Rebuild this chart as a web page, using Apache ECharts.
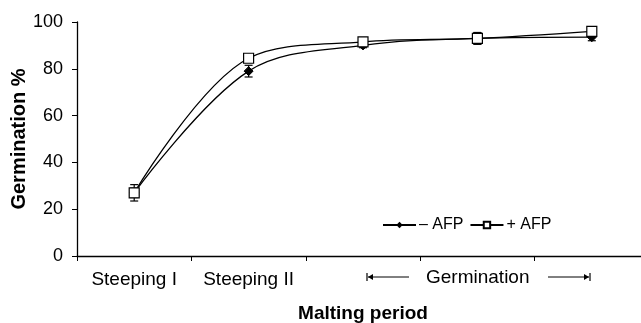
<!DOCTYPE html>
<html>
<head>
<meta charset="utf-8">
<script src="https://cdn.jsdelivr.net/npm/echarts@6/dist/echarts.min.js"></script>
<style>
  html, body { margin: 0; padding: 0; background: #fff; }
  #chart1 { width: 641px; height: 323px; }
</style>
</head>
<body>
<div id="chart1"></div>
<script>
// 类目 (malting period)
const categories = ['Steeping I', 'Steeping II', '', '', '']
// germination %
const minusAfp = [27, 79, 90, 93, 93.5]
const plusAfp = [27, 84.5, 91.5, 93, 96]
// error (+/-)
const minusAfpErr = [2, 2.5, 1, 2.5, 1.5]
const plusAfpErr = [3.5, 1.5, 1, 2.5, 1.5]
const yTicks = [0, 20, 40, 60, 80, 100]

const chart1 = echarts.init(document.getElementById('chart1'))
const fontFamily = 'Liberation Sans, Arial, sans-serif'

function errData (vals, errs) {
    return vals.map((v, i) => [i, v - errs[i], v + errs[i]])
}

function renderErr (params, api) {
    const x = api.value(0)
    const lo = api.coord([x, api.value(1)])
    const hi = api.coord([x, api.value(2)])
    const w = 4
    const style = { stroke: '#000', lineWidth: 1.2 }
    return {
        type: 'group',
        children: [
            { type: 'line', shape: { x1: lo[0], y1: lo[1], x2: hi[0], y2: hi[1] }, style: style },
            { type: 'line', shape: { x1: lo[0] - w, y1: lo[1], x2: lo[0] + w, y2: lo[1] }, style: style },
            { type: 'line', shape: { x1: hi[0] - w, y1: hi[1], x2: hi[0] + w, y2: hi[1] }, style: style }
        ]
    }
}

const option = {
    animation: false,
    textStyle: { fontFamily: fontFamily },
    grid: { left: 77, top: 22, width: 572, bottom: 67, outerBoundsMode: 'none', containLabel: false },
    legend: {
        left: 377,
        top: 212,
        itemWidth: 33,
        itemHeight: 8,
        itemGap: 6,
        textStyle: { fontSize: 16, color: '#000', fontFamily: fontFamily, padding: [0, 0, 0, -2] },
        data: ['– AFP', '+ AFP']
    },
    xAxis: {
        type: 'category',
        data: categories,
        name: 'Malting period',
        nameLocation: 'middle',
        nameGap: 48,
        nameTextStyle: { fontSize: 19, fontWeight: 'bold', color: '#000' },
        axisLine: { lineStyle: { color: '#000', width: 1.3 } },
        axisTick: { show: true, length: 5, lineStyle: { color: '#000' } },
        axisLabel: { fontSize: 19, color: '#000', margin: 14, interval: 0 }
    },
    yAxis: {
        type: 'value',
        min: 0,
        max: 100,
        interval: 20,
        name: 'Germination %',
        nameLocation: 'middle',
        nameGap: 48,
        nameMoveOverlap: false,
        nameTextStyle: { fontSize: 20, fontWeight: 'bold', color: '#000' },
        axisLine: { show: true, lineStyle: { color: '#000', width: 1.3 } },
        axisTick: { show: true, length: 5, lineStyle: { color: '#000' } },
        axisLabel: {
            fontSize: 18, color: '#000', margin: 14,
            formatter: (v) => (yTicks.indexOf(v) >= 0 ? String(v) : '')
        },
        splitLine: { show: false }
    },
    graphic: [
        // Germination 区间标注
        { type: 'text', left: 426, top: 268, style: { text: 'Germination', fontSize: 19, fill: '#000', fontFamily: fontFamily } },
        { type: 'line', shape: { x1: 368, y1: 277, x2: 409, y2: 277 }, style: { stroke: '#000', lineWidth: 1 } },
        { type: 'line', shape: { x1: 367, y1: 273, x2: 367, y2: 281 }, style: { stroke: '#000', lineWidth: 1.2 } },
        { type: 'polygon', shape: { points: [[368, 277], [373, 274], [373, 280]] }, style: { fill: '#000' } },
        { type: 'line', shape: { x1: 548, y1: 277, x2: 589, y2: 277 }, style: { stroke: '#000', lineWidth: 1 } },
        { type: 'line', shape: { x1: 590, y1: 273, x2: 590, y2: 281 }, style: { stroke: '#000', lineWidth: 1.2 } },
        { type: 'polygon', shape: { points: [[589, 277], [584, 274], [584, 280]] }, style: { fill: '#000' } }
    ],
    series: [
        {
            name: '– AFP',
            type: 'line',
            data: minusAfp,
            smooth: 0.35,
            symbol: 'diamond',
            symbolSize: 9,
            lineStyle: { color: '#000', width: 1.3 },
            itemStyle: { color: '#000', borderColor: '#000' },
            z: 3
        },
        {
            name: '+ AFP',
            type: 'line',
            data: plusAfp,
            smooth: 0.35,
            symbol: 'rect',
            symbolSize: 10,
            lineStyle: { color: '#000', width: 1.3 },
            itemStyle: { color: '#fff', borderColor: '#000', borderWidth: 1.2 },
            z: 4
        },
        {
            type: 'custom',
            renderItem: renderErr,
            data: errData(minusAfp, minusAfpErr),
            encode: { x: 0, y: [1, 2] },
            z: 2
        },
        {
            type: 'custom',
            renderItem: renderErr,
            data: errData(plusAfp, plusAfpErr),
            encode: { x: 0, y: [1, 2] },
            z: 2
        }
    ]
}
chart1.setOption(option)
</script>
</body>
</html>
